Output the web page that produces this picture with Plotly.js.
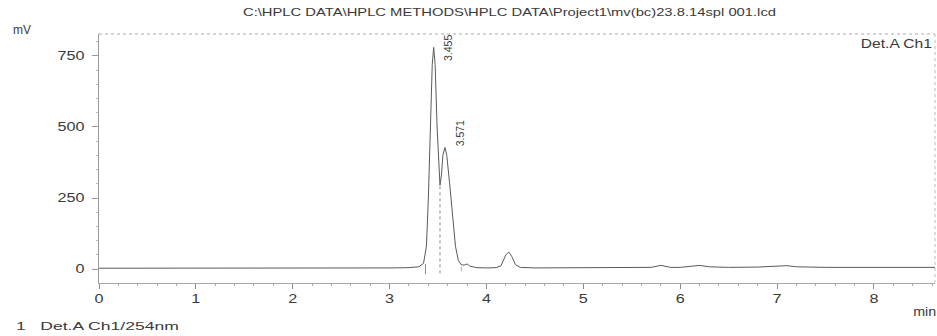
<!DOCTYPE html>
<html>
<head>
<meta charset="utf-8">
<script src="https://cdn.plot.ly/plotly-3.0.1.min.js"></script>
<style>html,body{margin:0;padding:0;background:#fff;}#chart{width:937px;height:336px;}</style>
</head>
<body>
<div id="chart"></div>
<script>
// Retention time (min) and detector signal (mV)
const timeMin = [0, 0.5, 1.0, 1.5, 2.0, 2.5, 3.0, 3.2, 3.3, 3.35, 3.38, 3.40, 3.42, 3.44, 3.455, 3.47, 3.49, 3.51, 3.52, 3.535, 3.55, 3.571, 3.59, 3.62, 3.65, 3.68, 3.71, 3.74, 3.77, 3.80, 3.83, 3.90, 4.0, 4.1, 4.15, 4.20, 4.23, 4.26, 4.30, 4.35, 4.5, 5.0, 5.5, 5.7, 5.8, 5.85, 5.9, 6.0, 6.1, 6.2, 6.3, 6.5, 6.8, 7.0, 7.1, 7.2, 7.5, 8.0, 8.63];
const signalMV = [3, 3, 2, 3, 3, 3, 4, 5, 8, 20, 80, 250, 500, 720, 780, 720, 500, 330, 295, 330, 400, 428, 400, 300, 180, 80, 30, 15, 14, 18, 10, 5, 4, 5, 12, 50, 60, 45, 15, 6, 4, 4, 5, 6, 13, 10, 6, 6, 9, 13, 8, 6, 7, 9, 12, 8, 6, 6, 6];
const peakTimes = ["3.455", "3.571"];
const peakHeights = [780, 428];
const valleyTime = 3.52;
const valleyHeight = 295;
const peakStart = 3.37;
const peakEnd = 3.74;
const xTicks = [0, 1, 2, 3, 4, 5, 6, 7, 8];
const yTicks = [0, 250, 500, 750];
const titleText = 'C:\\HPLC DATA\\HPLC METHODS\\HPLC DATA\\Project1\\mv(bc)23.8.14spl 001.lcd';
const channelText = 'Det.A Ch1';
const footerText = '1\u00a0\u00a0\u00a0Det.A Ch1/254nm';

const FONT = 'Liberation Sans, Arial, sans-serif';
const ink = '#3a3a3a';
const W = 937, H = 336, L = 99, R = 2, T = 34, B = 53;
const pw = W - L - R, ph = H - T - B;
function px(x) { return (x - L) / pw; }
function py(y) { return 1 - (y - T) / ph; }

const traces = [
  {x: timeMin, y: signalMV, type: 'scatter', mode: 'lines', line: {color: '#5a5a5a', width: 1}},
  {x: [valleyTime, valleyTime], y: [-15, valleyHeight], type: 'scatter', mode: 'lines', line: {color: '#888', width: 1, dash: 'dot'}},
  {x: [peakStart, peakStart], y: [-18, 18], type: 'scatter', mode: 'lines', line: {color: '#888', width: 1}},
  {x: [peakEnd, peakEnd], y: [-8, 8], type: 'scatter', mode: 'lines', line: {color: '#aaa', width: 1}}
];

const labelYShift = [-16, -1];
const annotations = peakTimes.map((t, i) => ({
  x: parseFloat(t), y: peakHeights[i], xref: 'x', yref: 'y', text: t, showarrow: false,
  textangle: -90, xanchor: 'left', yanchor: 'bottom', xshift: 7, yshift: labelYShift[i],
  font: {family: FONT, size: 10.5, color: ink}
}));
// horizontal labels: [text, centre x px, centre y px, font size, target width px]
const hLabels = [
  [channelText, 896.5, 44, 12, 71],
  ['mV', 21.5, 30, 12, 18],
  ['min', 924, 312, 12, 23],
  [footerText, 97.5, 326, 11.5, 163]
];
hLabels.forEach(h => annotations.push({
  x: px(h[1]), y: py(h[2]), xref: 'paper', yref: 'paper', text: h[0], showarrow: false,
  xanchor: 'center', yanchor: 'middle', font: {family: FONT, size: h[3], color: ink}
}));

const layout = {
  width: W, height: H,
  margin: {l: L, r: R, t: T, b: B},
  paper_bgcolor: '#fff', plot_bgcolor: '#fff',
  showlegend: false,
  title: {text: titleText, x: 509.5 / W, xanchor: 'center', y: 1 - 12 / H, yanchor: 'middle',
          font: {family: FONT, size: 11.5, color: ink}},
  xaxis: {range: [0, 8.63], tickvals: xTicks, ticktext: xTicks.map(String), ticks: 'outside', ticklen: 5, tickcolor: '#888',
          showgrid: false, zeroline: false, showline: true, linecolor: '#aaa', linewidth: 1,
          minor: {dtick: 0.2, ticks: 'outside', ticklen: 2, tickcolor: '#aaa'},
          tickfont: {family: FONT, size: 12, color: ink}},
  yaxis: {range: [-49, 827], tickvals: yTicks, ticktext: yTicks.map(String), ticks: 'outside', ticklen: 6, tickcolor: '#999',
          ticklabelstandoff: 5,
          showgrid: false, zeroline: false, showline: true, linecolor: '#999', linewidth: 1,
          minor: {dtick: 50, ticks: 'outside', ticklen: 2, tickcolor: '#bbb'},
          tickfont: {family: FONT, size: 12, color: ink}},
  shapes: [
    {type: 'line', xref: 'paper', yref: 'paper', x0: 0, x1: 1, y0: 1, y1: 1, line: {color: '#aaa', width: 1, dash: 'dot'}},
    {type: 'line', xref: 'paper', yref: 'paper', x0: 1, x1: 1, y0: 0, y1: 1, line: {color: '#bbb', width: 1, dash: 'dot'}}
  ],
  annotations: annotations
};

function stretch(el, width) {
  el.setAttribute('textLength', width.toFixed(1));
  el.setAttribute('lengthAdjust', 'spacingAndGlyphs');
}
Plotly.newPlot('chart', traces, layout, {staticPlot: true, displayModeBar: false}).then(gd => {
  // the scanned print is stretched horizontally: widen horizontal texts to match
  const t = gd.querySelector('.gtitle');
  if (t) stretch(t, 533);
  const ann = gd.querySelectorAll('.annotation-text');
  hLabels.forEach((h, i) => { const el = ann[peakTimes.length + i]; if (el) stretch(el, h[4]); });
  gd.querySelectorAll('.xtick text, .ytick text').forEach(el => stretch(el, el.getComputedTextLength() * 1.35));
});
</script>
</body>
</html>
